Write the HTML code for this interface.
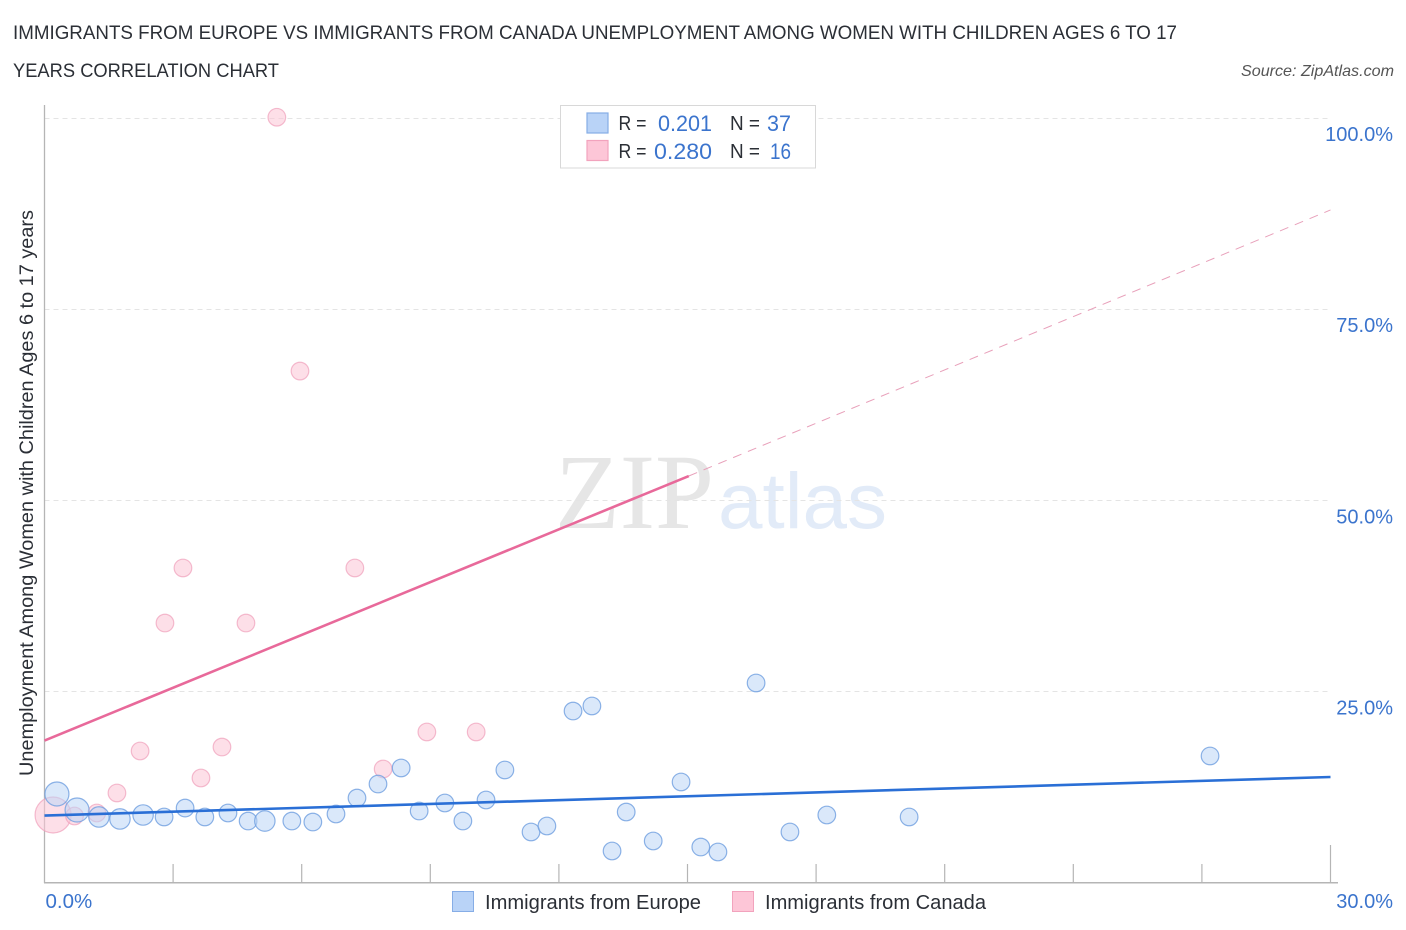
<!DOCTYPE html>
<html lang="en">
<head>
<meta charset="utf-8">
<title>Immigrants from Europe vs Immigrants from Canada Unemployment Chart</title>
<style>
html,body{margin:0;padding:0;background:#fff;}
svg{display:block;font-family:"Liberation Sans",Arial,sans-serif;}
</style>
</head>
<body>
<svg id="chart" width="1406" height="930" viewBox="0 0 1406 930" xmlns="http://www.w3.org/2000/svg">
  <text x="13" y="39" font-size="19" fill="#2b2f36" textLength="1164" lengthAdjust="spacingAndGlyphs">IMMIGRANTS FROM EUROPE VS IMMIGRANTS FROM CANADA UNEMPLOYMENT AMONG WOMEN WITH CHILDREN AGES 6 TO 17</text>
  <text x="13" y="77" font-size="19" fill="#2b2f36" textLength="266" lengthAdjust="spacingAndGlyphs">YEARS CORRELATION CHART</text>
  <text x="1241" y="76" font-size="16" font-style="italic" fill="#555" textLength="153" lengthAdjust="spacingAndGlyphs">Source: ZipAtlas.com</text>

  <g>
    <text x="555" y="528" font-family="'Liberation Serif',serif" font-size="107" fill="#e6e6e6" textLength="159" lengthAdjust="spacingAndGlyphs">ZIP</text>
    <text x="718" y="528" font-size="79" fill="#e2ebf8" textLength="169" lengthAdjust="spacingAndGlyphs">atlas</text>
  </g>

  <g id="grid"></g>
  <g id="axes"></g>
  <g id="pink-points"></g>
  <g id="blue-points"></g>
  <g id="trends"></g>
  <g id="tick-labels"></g>

  <text transform="translate(33,776) rotate(-90)" x="0" y="0" font-size="19" fill="#2b2f36" textLength="566" lengthAdjust="spacingAndGlyphs">Unemployment Among Women with Children Ages 6 to 17 years</text>

  <g>
    <rect x="560.5" y="105.5" width="255" height="62.5" fill="#fff" stroke="#d8d8d8" stroke-width="1"/>
    <rect x="587" y="113" width="21" height="20" fill="#b9d3f7" stroke="#86ade6" stroke-width="1.2"/>
    <rect x="587" y="140.5" width="21" height="20" fill="#fdc6d7" stroke="#f2a3bd" stroke-width="1.2"/>
    <text x="618.5" y="130" font-size="20" fill="#2b2f36" textLength="28" lengthAdjust="spacingAndGlyphs">R =</text>
    <text x="658" y="131" font-size="22" fill="#3b74cd" textLength="54" lengthAdjust="spacingAndGlyphs">0.201</text>
    <text x="730" y="130" font-size="20" fill="#2b2f36" textLength="30" lengthAdjust="spacingAndGlyphs">N =</text>
    <text x="767" y="131" font-size="22" fill="#3b74cd" textLength="24" lengthAdjust="spacingAndGlyphs">37</text>
    <text x="618.5" y="158" font-size="20" fill="#2b2f36" textLength="28" lengthAdjust="spacingAndGlyphs">R =</text>
    <text x="654" y="159" font-size="22" fill="#3b74cd" textLength="58" lengthAdjust="spacingAndGlyphs">0.280</text>
    <text x="730" y="158" font-size="20" fill="#2b2f36" textLength="30" lengthAdjust="spacingAndGlyphs">N =</text>
    <text x="770" y="159" font-size="22" fill="#3b74cd" textLength="21" lengthAdjust="spacingAndGlyphs">16</text>
  </g>

  <g>
    <rect x="452.5" y="891.5" width="21" height="20" fill="#b9d3f7" stroke="#86ade6" stroke-width="1"/>
    <text x="485" y="909" font-size="20" fill="#2b2f36" textLength="216" lengthAdjust="spacingAndGlyphs">Immigrants from Europe</text>
    <rect x="732.5" y="891.5" width="21" height="20" fill="#fdc6d7" stroke="#f2a3bd" stroke-width="1"/>
    <text x="765" y="909" font-size="20" fill="#2b2f36" textLength="221" lengthAdjust="spacingAndGlyphs">Immigrants from Canada</text>
  </g>
</svg>
<script>
const europeX = [0.29,0.76,1.27,1.76,2.30,2.79,3.28,3.74,4.28,4.75,5.14,5.77,6.26,6.80,7.29,7.78,8.32,8.74,9.34,9.76,10.30,10.74,11.35,11.72,12.33,12.77,13.24,13.57,14.20,14.85,15.31,15.71,16.60,17.39,18.25,20.17,27.19];
const europeY = [11.58,9.48,8.57,8.31,8.83,8.57,9.74,8.57,9.09,8.04,8.04,8.04,7.91,8.96,11.05,12.88,14.98,9.35,10.40,8.04,10.79,14.72,6.61,7.39,22.43,23.09,4.12,9.22,5.43,13.15,4.64,3.99,26.10,6.61,8.83,8.57,16.55];
const europeWeight = [3,3,2,2,2,1,1,1,1,1,2,1,1,1,1,1,1,1,1,1,1,1,1,1,1,1,1,1,1,1,1,1,1,1,1,1,1];
const canadaX = [0.20,0.70,1.22,1.69,2.23,2.81,3.23,3.65,4.14,4.70,5.42,5.96,7.24,7.90,8.92,10.07];
const canadaY = [8.83,8.70,9.09,11.71,17.20,33.94,41.14,13.67,17.72,33.94,100.1,66.9,41.14,14.85,19.69,19.69];
const canadaWeight = [4,1,1,1,1,1,1,1,1,1,1,1,1,1,1,1];
const europeTrendX = [0,30];
const europeTrendY = [8.76,13.8];
const canadaTrendX = [0,15.03];
const canadaTrendY = [18.57,53.17];
const canadaExtensionX = [15.03,30];
const canadaExtensionY = [53.17,87.97];
const yTicks = [25,50,75,100];
const yTickLabels = ["25.0%","50.0%","75.0%","100.0%"];
const xTicks = [3,6,9,12,15,18,21,24,27,30];
const xEndTicks = [0,30];
const xEndLabels = ["0.0%","30.0%"];

const NS = "http://www.w3.org/2000/svg";
const xScale = v => 44.5 + v * (1286 / 30);
const yScale = v => 882.5 - v * 7.645;
const radiusOf = w => w === 1 ? 8.8 : w === 2 ? 10.2 : w === 3 ? 12 : 18;

function make(tag, attrs, parent) {
  const el = document.createElementNS(NS, tag);
  for (const k in attrs) el.setAttribute(k, attrs[k]);
  parent.appendChild(el);
  return el;
}

const gridG = document.getElementById("grid");
yTicks.forEach(t => {
  const gy = Math.floor(yScale(t)) + 0.5;
  const el = make("line", {x1: 44.5, x2: 1330.5, y1: gy, y2: gy, stroke: "#e4e4e4", "stroke-width": 1, "stroke-dasharray": "5 4"}, gridG);
  
  
});

const axesG = document.getElementById("axes");
const yAxis = make("line", {x1: 44.5, x2: 44.5, y1: 105, y2: 883, stroke: "#b5b5b5", "stroke-width": 1.3}, axesG);


const xAxis = make("line", {x1: 44, x2: 1338, y1: 882.7, y2: 882.7, stroke: "#b5b5b5", "stroke-width": 1.5}, axesG);


xTicks.forEach(t => {
  const el = make("line", {x1: xScale(t), x2: xScale(t), y1: t === 30 ? 845 : 864, y2: 883, stroke: "#b5b5b5", "stroke-width": 1.2}, axesG);
  
  
});

function drawPoints(xs, ys, ws, groupId, fill, stroke, strokeOpacity, name) {
  const g = document.getElementById(groupId);
  xs.forEach((x, i) => {
    const c = make("circle", {cx: xScale(x), cy: yScale(ys[i]), r: radiusOf(ws[i]), fill: fill, "fill-opacity": 0.55, stroke: stroke, "stroke-opacity": strokeOpacity, "stroke-width": 1.2}, g);
    
    
  });
}
drawPoints(canadaX, canadaY, canadaWeight, "pink-points", "#fcc5d6", "#f0a0ba", 0.7, "canada-point");
drawPoints(europeX, europeY, europeWeight, "blue-points", "#bcd5f6", "#6f9fe0", 0.8, "europe-point");

const trendG = document.getElementById("trends");
const blueTrend = make("line", {x1: xScale(europeTrendX[0]), y1: yScale(europeTrendY[0]), x2: xScale(europeTrendX[1]), y2: yScale(europeTrendY[1]), stroke: "#2a6fd6", "stroke-width": 2.6}, trendG);


const pinkTrend = make("line", {x1: xScale(canadaTrendX[0]), y1: yScale(canadaTrendY[0]), x2: xScale(canadaTrendX[1]), y2: yScale(canadaTrendY[1]), stroke: "#e8699a", "stroke-width": 2.6}, trendG);


const pinkExt = make("line", {x1: xScale(canadaExtensionX[0]), y1: yScale(canadaExtensionY[0]), x2: xScale(canadaExtensionX[1]), y2: yScale(canadaExtensionY[1]), stroke: "#e8a0ba", "stroke-width": 1, "stroke-dasharray": "9 7"}, trendG);



const labelG = document.getElementById("tick-labels");
yTicks.forEach((t, i) => {
  const el = make("text", {x: 1393, y: yScale(t) + 23, "font-size": 20, fill: "#3b74cd", "text-anchor": "end"}, labelG);
  el.textContent = yTickLabels[i];
  
  
});
xEndTicks.forEach((t, i) => {
  const el = i === 0
    ? make("text", {x: xScale(t) + 1, y: 908, "font-size": 20.5, fill: "#3b74cd"}, labelG)
    : make("text", {x: 1393, y: 908, "font-size": 20, fill: "#3b74cd", "text-anchor": "end"}, labelG);
  el.textContent = xEndLabels[i];
  
  
});
</script>
</body>
</html>
